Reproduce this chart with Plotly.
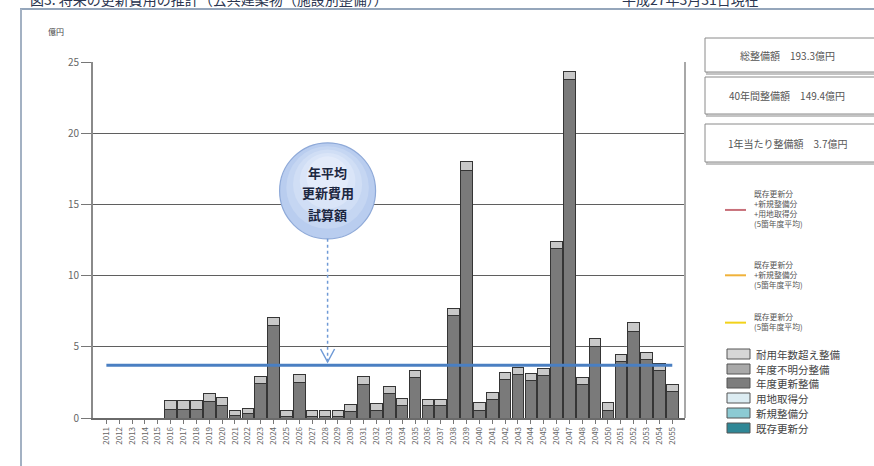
import plotly.graph_objects as go

# ---- data -------------------------------------------------------------
years = ["2011", "2012", "2013", "2014", "2015", "2016", "2017", "2018", "2019",
         "2020", "2021", "2022", "2023", "2024", "2025", "2026", "2027", "2028",
         "2029", "2030", "2031", "2032", "2033", "2034", "2035", "2036", "2037",
         "2038", "2039", "2040", "2041", "2042", "2043", "2044", "2045", "2046",
         "2047", "2048", "2049", "2050", "2051", "2052", "2053", "2054", "2055"]

# 年度更新整備 (億円)
renewal = [0, 0, 0, 0, 0, 0.6, 0.6, 0.6, 1.15, 0.85, 0.15, 0.3, 2.4, 6.5, 0.1,
           2.5, 0.1, 0.1, 0.1, 0.45, 2.35, 0.55, 1.7, 0.9, 2.83, 0.85, 0.85, 7.2,
           17.4, 0.55, 1.3, 2.7, 3.07, 2.65, 2.95, 11.9, 23.8, 2.37, 5.0, 0.55,
           3.97, 6.1, 4.09, 3.35, 1.83]

# 耐用年数超え整備 (億円)
overdue = [0, 0, 0, 0, 0, 0.6, 0.6, 0.6, 0.6, 0.62, 0.36, 0.37, 0.5, 0.56, 0.4,
           0.55, 0.4, 0.4, 0.4, 0.48, 0.55, 0.5, 0.5, 0.5, 0.5, 0.48, 0.48, 0.5,
           0.6, 0.55, 0.5, 0.5, 0.5, 0.5, 0.5, 0.5, 0.5, 0.5, 0.55, 0.55, 0.5,
           0.59, 0.5, 0.5, 0.5]

annual_average = 3.7          # 1年当たり整備額
summary_lines = ["総整備額　193.3億円", "40年間整備額　149.4億円", "1年当たり整備額　3.7億円"]

line_legend = [
    ("#c8707a", ["既存更新分", "+新規整備分", "+用地取得分", "(5箇年度平均)"]),
    ("#f0b23a", ["既存更新分", "+新規整備分", "(5箇年度平均)"]),
    ("#f2d21a", ["既存更新分", "(5箇年度平均)"]),
]
box_legend = [
    ("#d6d6d6", "耐用年数超え整備"),
    ("#a9a9a9", "年度不明分整備"),
    ("#7d7d7d", "年度更新整備"),
    ("#dcecf2", "用地取得分"),
    ("#8ccad3", "新規整備分"),
    ("#2f8796", "既存更新分"),
]

FONT = "Noto Sans CJK JP"
W, H = 874, 466
L, R, T, B = 93, 189, 62, 48
PW, PH = W - L - R, H - T - B


def px(x):
    return (x - L) / PW


def py(y):
    return (H - B - y) / PH


def label(x, y, text, size, color, xanchor="center", xref="paper", **kw):
    return dict(x=x, y=y, xref=xref, yref="paper", text=text, showarrow=False,
                xanchor=xanchor, yanchor="middle",
                font=dict(family=FONT, size=size, color=color), **kw)


fig = go.Figure()

fig.add_trace(go.Bar(x=years, y=renewal, name="年度更新整備",
                     marker=dict(color="#7a7a7a", line=dict(color="#353535", width=1))))
fig.add_trace(go.Bar(x=years, y=overdue, name="耐用年数超え整備",
                     marker=dict(color="#c8c8c8", line=dict(color="#353535", width=1))))

# annual average line
fig.add_trace(go.Scatter(x=[years[0], years[-1]], y=[annual_average] * 2,
                         mode="lines", line=dict(color="#4a7fc2", width=3),
                         name="年平均", hoverinfo="skip"))

shapes = []
annotations = []

# right border of the plot area
shapes.append(dict(type="line", xref="paper", yref="paper", x0=1, x1=1, y0=0, y1=1,
                   line=dict(color="#a8a8a8", width=2)))

# outer frame
shapes.append(dict(type="line", xref="paper", yref="paper", x0=px(20), x1=px(880),
                   y0=py(9), y1=py(9), line=dict(color="#95a6bb", width=2)))
shapes.append(dict(type="line", xref="paper", yref="paper", x0=px(21), x1=px(21),
                   y0=py(9), y1=py(466), line=dict(color="#a3b1c3", width=2)))

# callout bubble
cx, cy = 17.2, 15.95
rx, ry = 48 / (PW / 46.03), 48 / (PH / 25)
for k, col in enumerate(["#b9cdef", "#c5d6f2", "#d0def5", "#dae5f8", "#e3ebfa"]):
    f = 1 - k * 0.14
    dy = ry * (1 - f) * 0.5
    shapes.append(dict(type="circle", xref="x", yref="y",
                       x0=cx - rx * f, x1=cx + rx * f,
                       y0=cy - ry * f + dy, y1=cy + ry * f + dy,
                       fillcolor=col,
                       line=dict(color="#8ea9d8" if k == 0 else col, width=1.2 if k == 0 else 0)))
for txt, ypix in zip(["年平均", "更新費用", "試算額"], [172, 193, 214]):
    annotations.append(label(cx, py(ypix), f"<b>{txt}</b>", 13, "#1c2740", xref="x"))

# dotted pointer to the average line
shapes.append(dict(type="line", xref="x", yref="y", x0=cx, x1=cx, y0=cy - ry, y1=annual_average + 0.2,
                   line=dict(color="#6f9ad6", width=1.5, dash="dot")))
vx = L + (cx + 1.04) * PW / 46.03
shapes.append(dict(type="path", xref="paper", yref="paper",
                   path=f"M {px(vx - 7)},{py(349)} L {px(vx)},{py(362)} L {px(vx + 7)},{py(349)}",
                   line=dict(color="#6f9ad6", width=1.5)))

# summary boxes
for (y0, y1), txt in zip([(38, 72), (77, 114), (124, 162)], summary_lines):
    shapes.append(dict(type="rect", xref="paper", yref="paper", x0=px(707), x1=px(880),
                       y0=py(y1 + 2), y1=py(y0 + 2), line=dict(color="#c4c4c4", width=2),
                       fillcolor="#e4e4e4"))
    shapes.append(dict(type="rect", xref="paper", yref="paper", x0=px(705), x1=px(878),
                       y0=py(y1), y1=py(y0), line=dict(color="#8a8a8a", width=1),
                       fillcolor="white"))
    annotations.append(label(px(787), py((y0 + y1) / 2), txt, 10, "#555555"))

# line legend
for (col, lines), ytop in zip(line_legend, [195, 265, 317]):
    ymid = ytop + (len(lines) - 1) * 9.3 / 2
    shapes.append(dict(type="line", xref="paper", yref="paper", x0=px(725), x1=px(746),
                       y0=py(ymid + 1), y1=py(ymid + 1), line=dict(color=col, width=2)))
    annotations.append(label(px(752), py(ymid), "<br>".join(lines), 7.8, "#555555",
                             xanchor="left", align="left"))

# box legend
for (col, name), yc in zip(box_legend, [354, 369, 383, 398, 413, 428]):
    shapes.append(dict(type="rect", xref="paper", yref="paper", x0=px(727), x1=px(750),
                       y0=py(yc + 5), y1=py(yc - 5), fillcolor=col,
                       line=dict(color="#555555", width=1)))
    annotations.append(label(px(754), py(yc), name, 10.5, "#444444", xanchor="left"))

# unit label and heading along the top edge
annotations.append(label(px(56), py(32), "億円", 8, "#444444"))
annotations.append(label(px(28), py(-1), "図3. 将来の更新費用の推計（公共建築物（施設別整備））",
                         14, "#2a3550", xanchor="left"))
annotations.append(label(px(620), py(-1), "平成27年3月31日現在", 14, "#2a3550", xanchor="left"))

fig.update_layout(
    width=W, height=H, autosize=False,
    margin=dict(l=L, r=R, t=T, b=B, pad=0),
    paper_bgcolor="white", plot_bgcolor="white",
    barmode="stack", bargap=0.1, showlegend=False,
    shapes=shapes, annotations=annotations,
    font=dict(family=FONT, color="#555555"),
)
fig.update_xaxes(type="category", range=[-1.04, 44.99], tickangle=-90,
                 ticks="outside", ticklen=4, tickcolor="#777777",
                 tickfont=dict(family=FONT, size=8, color="#666666"),
                 showline=True, linecolor="#6a6a6a", linewidth=1.5, showgrid=False)
fig.update_yaxes(range=[0, 25], dtick=5, ticks="outside", ticklen=10, tickcolor="#777777",
                 tickfont=dict(family=FONT, size=10, color="#666666"),
                 showline=True, linecolor="#8a8a8a", linewidth=2,
                 showgrid=True, gridcolor="#5f5f5f", gridwidth=1.3, zeroline=False)

fig.write_html("out.html")
